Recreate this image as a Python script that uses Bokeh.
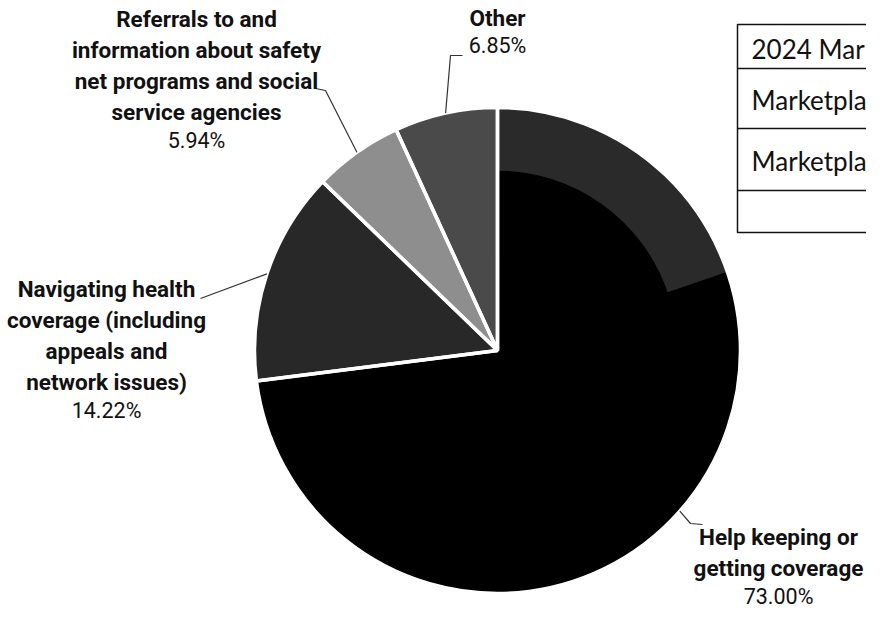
import math
from bokeh.plotting import figure
from bokeh.models import Range1d, ColumnDataSource
from bokeh.core.properties import value
from bokeh.embed import file_html
from bokeh.resources import INLINE

# ---------------- data ----------------
categories = [
    "Help keeping or getting coverage",
    "Navigating health coverage (including appeals and network issues)",
    "Referrals to and information about safety net programs and social service agencies",
    "Other",
]
shares = [73.00, 14.22, 5.94, 6.85]
pct_labels = ["73.00%", "14.22%", "5.94%", "6.85%"]
label_lines = [
    ["Help keeping or", "getting coverage"],
    ["Navigating health", "coverage (including", "appeals and", "network issues)"],
    ["Referrals to and", "information about safety", "net programs and social", "service agencies"],
    ["Other"],
]
table_rows = ["2024 Mar", "Marketpla", "Marketpla", ""]

# ---------------- layout / style ----------------
W, H = 866, 613
CX, CY, R = 497, 263, 243
colors = ["#000000", "#282828", "#8e8e8e", "#4a4a4a"]
LABEL_FONT = "Roboto"
# label anchors: (x center, first baseline y, line step, gap to percent)
label_pos = [
    (778, 77, 31, 29),
    (106, 325, 31, 29),
    (196, 595, 31, 29),
    (497, 596, 0, 28),
]
# leader elbow / end points for each slice
leaders = [
    [(690, 90), (702, 89)],
    [(200, 315)],
    [(325, 523), (315, 525)],
    [(450, 558), (462, 558)],
]

p = figure(width=W, height=H, x_range=Range1d(0, W), y_range=Range1d(0, H),
           x_axis_type=None, y_axis_type=None, toolbar_location=None,
           output_backend="svg", min_border=0, outline_line_color=None,
           background_fill_color="white", border_fill_color="white")
p.grid.visible = False

total = sum(shares)
starts, ends, mids = [], [], []
cum = 0.0
for v in shares:
    a0 = math.pi / 2 - 2 * math.pi * cum / total
    cum += v
    a1 = math.pi / 2 - 2 * math.pi * cum / total
    starts.append(a0)
    ends.append(a1)
    mids.append((a0 + a1) / 2)

src = ColumnDataSource(dict(x=[CX] * 4, y=[CY] * 4, start=starts, end=ends,
                            color=colors, cat=categories))
p.wedge(x="x", y="y", radius=R, start_angle="start", end_angle="end",
        direction="clock", fill_color="color", line_color=None, source=src)

# scanned shading in the outer upper part of the largest slice
p.annular_wedge(x=CX, y=CY, inner_radius=R * 0.74, outer_radius=R,
                start_angle=starts[0], end_angle=0.33, direction="clock",
                fill_color="#2a2a2a", line_color=None)

# white separators
p.wedge(x="x", y="y", radius=R, start_angle="start", end_angle="end",
        direction="clock", fill_color=None, line_color="white", line_width=3.5,
        source=src)

# leader lines
for i, pts in enumerate(leaders):
    sx = CX + R * math.cos(mids[i])
    sy = CY + R * math.sin(mids[i])
    xs = [sx] + [q[0] for q in pts]
    ys = [sy] + [q[1] for q in pts]
    p.line(xs, ys, line_color="#333333", line_width=1.2)

# labels
for i, lines in enumerate(label_lines):
    x0, y0, step, gap = label_pos[i]
    ys = [y0 - k * step for k in range(len(lines))]
    p.text(x=[x0] * len(lines), y=ys, text=lines, text_font=value(LABEL_FONT),
           text_font_style="bold", text_font_size="22.5px", text_align="center",
           text_baseline="alphabetic", text_color="#111111")
    py = ys[-1] - gap
    p.text(x=[x0], y=[py], text=[pct_labels[i]], text_font=value(LABEL_FONT),
           text_font_size="21.5px", text_align="center", text_baseline="alphabetic",
           text_color="#111111")

# partial table in the upper right
TX0, TX1 = 737, 920
row_lines = [589, 545, 485, 423, 381]
p.quad(left=TX0, right=TX1, top=row_lines[0], bottom=row_lines[-1],
       fill_color=None, line_color="#111111", line_width=1.5)
p.segment(x0=[TX0] * 3, x1=[TX1] * 3, y0=row_lines[1:4], y1=row_lines[1:4],
          line_color="#111111", line_width=1.5)
text_base = [565, 514, 453, 400]
p.text(x=[751] * 4, y=text_base, text=table_rows, text_font=value("Lato"),
       text_font_size="26px", text_align="left", text_baseline="alphabetic",
       text_color="#111111")

open("out.html", "w").write(file_html(p, INLINE))
